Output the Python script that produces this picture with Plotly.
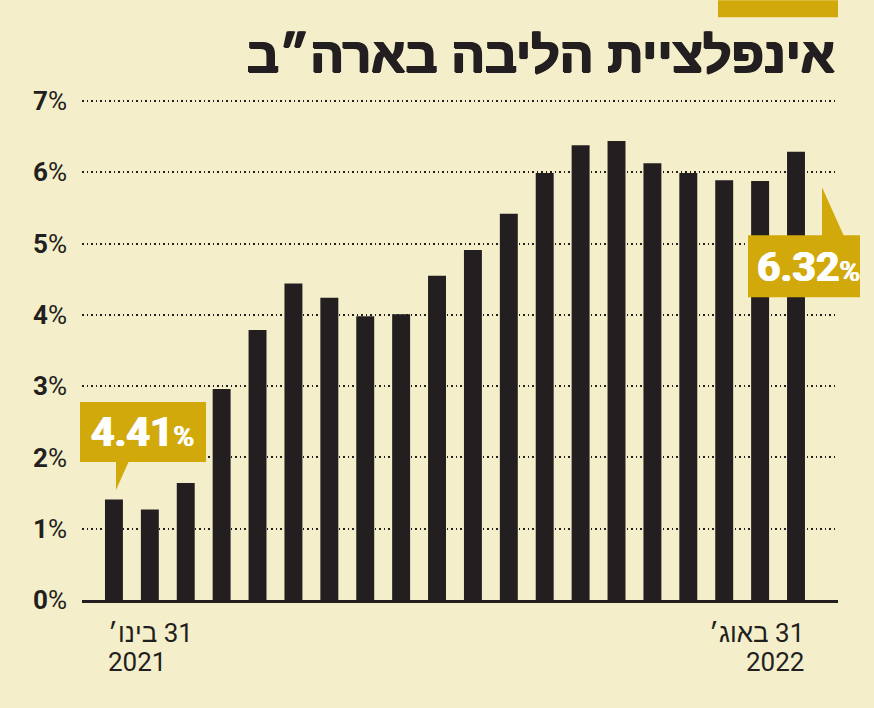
import plotly.graph_objects as go

# Data
months = ["ינו׳ 21", "פבר׳ 21", "מרץ 21", "אפר׳ 21", "מאי 21", "יוני 21", "יולי 21", "אוג׳ 21",
          "ספט׳ 21", "אוק׳ 21", "נוב׳ 21", "דצמ׳ 21", "ינו׳ 22", "פבר׳ 22", "מרץ 22", "אפר׳ 22",
          "מאי 22", "יוני 22", "יולי 22", "אוג׳ 22"]
core_inflation = [1.41, 1.27, 1.64, 2.96, 3.79, 4.44, 4.24, 3.98, 4.01, 4.55,
                  4.91, 5.42, 5.99, 6.38, 6.44, 6.13, 5.99, 5.89, 5.88, 6.29]
y_ticks = [0, 1, 2, 3, 4, 5, 6, 7]
title_text = "אינפלציית הליבה בארה״ב"
first_label = ["בינו׳\u200e 31", "2021"]
last_label = ["באוג׳\u200e 31", "2022"]
first_callout = "4.41"
last_callout = "6.32"

BG = "#F4EFCA"
GOLD = "#D2A90B"
DARK = "#231F20"
NUMFONT = "Roboto, Liberation Sans, DejaVu Sans, sans-serif"

W, H = 874, 708
Y_MAX = 7.1
L, R, B = 82, 838, 600
UNIT = 71.3
T = B - Y_MAX * UNIT


def px(x):
    return (x - L) / (R - L)


def py(y):
    return (B - y) / (B - T)


xs = list(range(len(months)))

fig = go.Figure()
fig.add_trace(go.Bar(
    x=xs, y=core_inflation, width=0.5,
    marker=dict(color=DARK, line=dict(width=0)),
    hovertext=months, hoverinfo="text+y",
))

shapes = []
# gold accent bar at top
shapes.append(dict(type="rect", xref="paper", yref="paper",
                   x0=px(718), x1=px(838), y0=py(0), y1=py(17),
                   fillcolor=GOLD, line=dict(width=0), layer="above"))
# callout 1
shapes.append(dict(type="rect", xref="paper", yref="paper",
                   x0=px(80), x1=px(206), y0=py(462), y1=py(402),
                   fillcolor=GOLD, line=dict(width=0), layer="above"))
shapes.append(dict(type="path", xref="paper", yref="paper",
                   path=f"M {px(116)} {py(461)} L {px(129)} {py(461)} L {px(116)} {py(490)} Z",
                   fillcolor=GOLD, line=dict(width=0), layer="above"))
# callout 2
shapes.append(dict(type="rect", xref="paper", yref="paper",
                   x0=px(748), x1=px(860), y0=py(297), y1=py(235),
                   fillcolor=GOLD, line=dict(width=0), layer="above"))
shapes.append(dict(type="path", xref="paper", yref="paper",
                   path=f"M {px(822)} {py(187)} L {px(822)} {py(236)} L {px(844)} {py(236)} Z",
                   fillcolor=GOLD, line=dict(width=0), layer="above"))

thick_dark = "1px 0 0 #231F20, -1px 0 0 #231F20, 0 1px 0 #231F20"
thick_white = "0.8px 0 0 #FFFFFF, -0.8px 0 0 #FFFFFF"

annotations = []
annotations.append(dict(
    text=f"<b>{title_text}</b>", xref="paper", yref="paper",
    x=px(837), y=py(55), xanchor="right", yanchor="middle", showarrow=False,
    font=dict(family="Liberation Sans, DejaVu Sans, sans-serif", size=50, color=DARK,
              shadow=thick_dark)))
annotations.append(dict(
    text=f"<b>{first_callout}</b><span style='font-size:28px'>%</span>",
    xref="paper", yref="paper", x=px(142), y=py(432), xanchor="center", yanchor="middle",
    showarrow=False, font=dict(family=NUMFONT, size=41, color="white", shadow=thick_white)))
annotations.append(dict(
    text=f"<b>{last_callout}</b><span style='font-size:28px'>%</span>",
    xref="paper", yref="paper", x=px(808), y=py(267), xanchor="center", yanchor="middle",
    showarrow=False, font=dict(family=NUMFONT, size=41, color="white", shadow=thick_white)))
for i, (line_y) in enumerate([633, 662]):
    annotations.append(dict(
        text=first_label[i], xref="x", yref="paper", x=xs[0], y=py(line_y),
        xanchor="left", yanchor="middle", xshift=-8, showarrow=False,
        font=dict(family=NUMFONT, size=26, color=DARK)))
    annotations.append(dict(
        text=last_label[i], xref="x", yref="paper", x=xs[-1], y=py(line_y),
        xanchor="right", yanchor="middle", xshift=10, showarrow=False,
        font=dict(family=NUMFONT, size=26, color=DARK)))

fig.update_layout(
    width=W, height=H,
    margin=dict(l=L, r=W - R, t=T, b=H - B, pad=0),
    paper_bgcolor=BG, plot_bgcolor=BG,
    showlegend=False,
    shapes=shapes, annotations=annotations,
    xaxis=dict(range=[-0.89, 20.17], showticklabels=False, showgrid=False, zeroline=False,
               showline=True, linecolor=DARK, linewidth=3, ticks="", fixedrange=True),
    yaxis=dict(range=[0, Y_MAX], tickvals=y_ticks,
               ticktext=[f"<b>{v}</b>%" for v in y_ticks],
               tickfont=dict(family=NUMFONT, size=26, color=DARK),
               showgrid=True, gridcolor=DARK, gridwidth=1.5, griddash="1.5px,3px",
               zeroline=False, ticks="", ticklabelstandoff=14, fixedrange=True),
    bargap=0.5,
)

fig.write_html("out.html", config={"displayModeBar": False},
               post_script="document.body.style.margin='0';document.body.style.padding='0';")
